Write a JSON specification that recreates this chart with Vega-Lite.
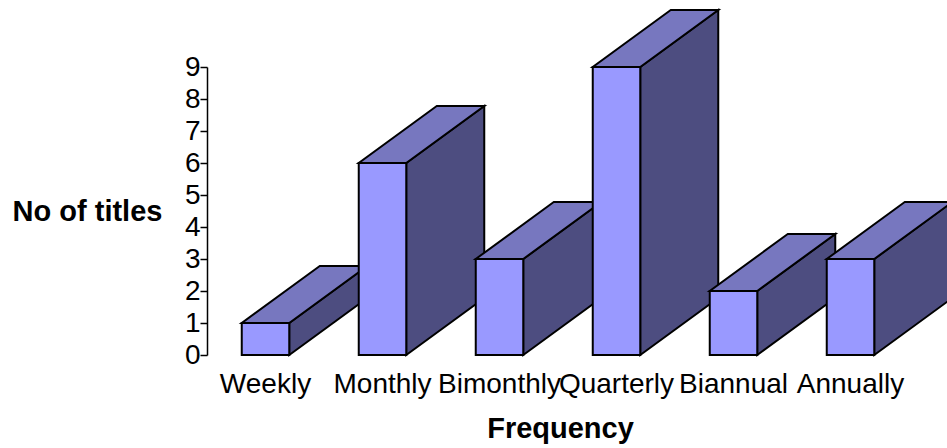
{
  "$schema": "https://vega.github.io/schema/vega-lite/v6.json",
  "autosize": "none",
  "padding": {"left": 207, "top": 67, "right": 38, "bottom": 93},
  "width": 702,
  "height": 288,
  "background": "white",
  "config": {"view": {"stroke": null}, "font": "Liberation Sans"},
  "data": {"values": [
    {"frequency": "Weekly", "titles": 1},
    {"frequency": "Monthly", "titles": 6},
    {"frequency": "Bimonthly", "titles": 3},
    {"frequency": "Quarterly", "titles": 9},
    {"frequency": "Biannual", "titles": 2},
    {"frequency": "Annually", "titles": 3}
  ]},
  "transform": [
    {"window": [{"op": "row_number", "as": "order"}]},
    {"calculate": "[0, 1]", "as": "depth"},
    {"flatten": ["depth"]},
    {"calculate": "datum.order - 0.5 - 0.203 + datum.depth * 0.6667", "as": "leftEdge"},
    {"calculate": "datum.order - 0.5 + 0.203 + datum.depth * 0.6667", "as": "rightEdge"},
    {"calculate": "datum.depth * 1.78", "as": "floor"},
    {"calculate": "datum.titles + datum.depth * 1.78", "as": "roof"}
  ],
  "encoding": {
    "y": {
      "type": "quantitative",
      "scale": {"domain": [0, 9], "nice": false},
      "axis": {
        "title": "No of titles",
        "titleFontSize": 29,
        "titleFontWeight": "bold",
        "titleColor": "black",
        "titleAngle": 0,
        "titleAlign": "center",
        "titleBaseline": "alphabetic",
        "titleX": -120,
        "titleY": 153,
        "values": [0, 1, 2, 3, 4, 5, 6, 7, 8, 9],
        "labelFontSize": 28,
        "labelColor": "black",
        "labelPadding": 0,
        "tickSize": 7,
        "tickWidth": 1.5,
        "tickColor": "black",
        "domainColor": "black",
        "domainWidth": 1.5,
        "grid": false
      }
    }
  },
  "layer": [
    {
      "mark": {"type": "area", "orient": "vertical", "color": "#4D4D80", "stroke": "black", "strokeWidth": 2, "strokeJoin": "miter"},
      "encoding": {
        "x": {"field": "rightEdge", "type": "quantitative", "scale": {"domain": [0, 6]}, "axis": null},
        "y": {"field": "floor"},
        "y2": {"field": "roof"},
        "detail": {"field": "frequency"}
      }
    },
    {
      "mark": {"type": "area", "orient": "horizontal", "color": "#7777BF", "stroke": "black", "strokeWidth": 2, "strokeJoin": "miter"},
      "encoding": {
        "x": {"field": "leftEdge", "type": "quantitative", "scale": {"domain": [0, 6]}, "axis": null},
        "x2": {"field": "rightEdge"},
        "y": {"field": "roof"},
        "detail": {"field": "frequency"}
      }
    },
    {
      "transform": [{"filter": "datum.depth === 0"}],
      "mark": {"type": "bar", "color": "#9999FF", "stroke": "black", "strokeWidth": 2, "width": 47.5},
      "encoding": {
        "x": {
          "field": "frequency",
          "type": "nominal",
          "sort": null,
          "scale": {"paddingInner": 0, "paddingOuter": 0},
          "axis": {
            "title": "Frequency",
            "titleFontSize": 29,
            "titleFontWeight": "bold",
            "titleColor": "black",
            "titleX": 353,
            "titleY": 82,
            "titleBaseline": "alphabetic",
            "labelAngle": 0,
            "labelFontSize": 28,
            "labelColor": "black",
            "labelPadding": 15,
            "labelOverlap": false,
            "labelLimit": 0,
            "labelFlush": false,
            "ticks": false,
            "domain": false
          }
        },
        "y": {"field": "titles"}
      }
    }
  ],
  "resolve": {"scale": {"x": "independent"}}
}
